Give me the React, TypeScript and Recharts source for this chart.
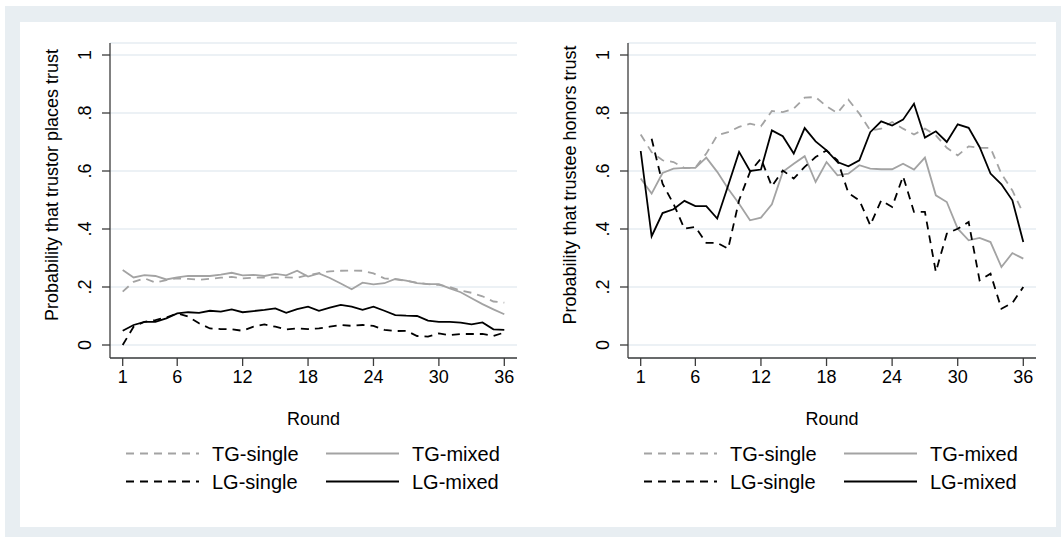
import React from 'react';
import { LineChart, Line, XAxis, YAxis, CartesianGrid } from 'recharts';

// ---------- data ----------
const rounds = [1, 2, 3, 4, 5, 6, 7, 8, 9, 10, 11, 12, 13, 14, 15, 16, 17, 18, 19, 20, 21, 22, 23, 24, 25, 26, 27, 28, 29, 30, 31, 32, 33, 34, 35, 36];
const xTicks = [1, 6, 12, 18, 24, 30, 36];
const yTicks = [0, 0.2, 0.4, 0.6, 0.8, 1];
const seriesNames = ['TG-single', 'TG-mixed', 'LG-single', 'LG-mixed'];

// Left panel: probability that trustor places trust
const trustorTGSingle = [0.184, 0.218, 0.230, 0.215, 0.224, 0.230, 0.228, 0.225, 0.228, 0.232, 0.235, 0.230, 0.232, 0.232, 0.232, 0.233, 0.232, 0.241, 0.248, 0.254, 0.256, 0.257, 0.256, 0.247, 0.230, 0.226, 0.222, 0.215, 0.210, 0.207, 0.200, 0.188, 0.180, 0.168, 0.150, 0.146];
const trustorTGMixed = [0.259, 0.233, 0.241, 0.238, 0.226, 0.233, 0.238, 0.238, 0.238, 0.243, 0.249, 0.240, 0.242, 0.238, 0.245, 0.240, 0.256, 0.236, 0.247, 0.231, 0.212, 0.192, 0.215, 0.209, 0.213, 0.228, 0.222, 0.213, 0.210, 0.210, 0.195, 0.182, 0.161, 0.141, 0.123, 0.106];
const trustorLGSingle = [0.0, 0.063, 0.080, 0.086, 0.095, 0.109, 0.098, 0.075, 0.057, 0.055, 0.054, 0.049, 0.063, 0.071, 0.063, 0.054, 0.057, 0.055, 0.057, 0.063, 0.069, 0.066, 0.069, 0.066, 0.052, 0.048, 0.049, 0.031, 0.029, 0.040, 0.034, 0.038, 0.038, 0.038, 0.031, 0.043];
const trustorLGMixed = [0.049, 0.069, 0.080, 0.080, 0.092, 0.109, 0.113, 0.111, 0.118, 0.115, 0.123, 0.113, 0.117, 0.121, 0.126, 0.111, 0.124, 0.132, 0.118, 0.129, 0.138, 0.132, 0.121, 0.132, 0.118, 0.103, 0.101, 0.100, 0.084, 0.080, 0.080, 0.077, 0.071, 0.078, 0.054, 0.052];

// Right panel: probability that trustee honors trust
const trusteeTGSingle = [0.726, 0.665, 0.637, 0.631, 0.610, 0.612, 0.660, 0.723, 0.734, 0.752, 0.763, 0.754, 0.807, 0.803, 0.815, 0.853, 0.855, 0.823, 0.800, 0.846, 0.798, 0.740, 0.746, 0.769, 0.746, 0.726, 0.746, 0.723, 0.680, 0.654, 0.685, 0.680, 0.680, 0.590, 0.533, 0.453];
const trusteeTGMixed = [0.574, 0.522, 0.593, 0.608, 0.611, 0.611, 0.646, 0.597, 0.539, 0.487, 0.430, 0.439, 0.485, 0.597, 0.625, 0.651, 0.562, 0.631, 0.585, 0.591, 0.620, 0.608, 0.606, 0.606, 0.625, 0.605, 0.646, 0.516, 0.493, 0.401, 0.361, 0.369, 0.355, 0.269, 0.317, 0.298];
const trusteeLGSingle = [null, 0.711, 0.556, 0.487, 0.401, 0.407, 0.352, 0.352, 0.332, 0.499, 0.597, 0.643, 0.547, 0.602, 0.574, 0.614, 0.648, 0.671, 0.637, 0.524, 0.499, 0.413, 0.499, 0.476, 0.582, 0.459, 0.459, 0.252, 0.384, 0.401, 0.424, 0.223, 0.246, 0.125, 0.145, 0.200];
const trusteeLGMixed = [0.669, 0.375, 0.455, 0.468, 0.497, 0.479, 0.479, 0.436, 0.550, 0.666, 0.600, 0.605, 0.740, 0.720, 0.660, 0.748, 0.702, 0.671, 0.631, 0.616, 0.637, 0.734, 0.771, 0.757, 0.777, 0.832, 0.715, 0.737, 0.700, 0.761, 0.749, 0.683, 0.591, 0.554, 0.499, 0.355];

// ---------- styles ----------
const FONT = "'Liberation Sans', Arial, Helvetica, sans-serif";
const GRAY = '#a3a3a3';
const BLACK = '#000000';
const AXIS = '#3c3c3c';
const GRID = '#e6edf2';
const BG = '#e8eef2';
const DASH = '8 6';

type Row = { round: number; tgSingle: number | null; tgMixed: number | null; lgSingle: number | null; lgMixed: number | null };

function buildRows(a: (number | null)[], b: (number | null)[], c: (number | null)[], d: (number | null)[]): Row[] {
  return rounds.map((r, i) => ({ round: r, tgSingle: a[i], tgMixed: b[i], lgSingle: c[i], lgMixed: d[i] }));
}

const trustorData = buildRows(trustorTGSingle, trustorTGMixed, trustorLGSingle, trustorLGMixed);
const trusteeData = buildRows(trusteeTGSingle, trusteeTGMixed, trusteeLGSingle, trusteeLGMixed);

const fmtY = (v: number) => (v === 0 ? '0' : v === 1 ? '1' : v.toFixed(1).replace(/^0/, ''));

const YTick = (props: any) => {
  const { x, y, payload } = props;
  return (
    <text
      transform={`translate(${x - 9},${y}) rotate(-90)`}
      textAnchor="middle"
      fontFamily={FONT}
      fontSize={18}
      fill="#000"
    >
      {fmtY(payload.value)}
    </text>
  );
};

const XTick = (props: any) => {
  const { x, y, payload } = props;
  return (
    <text x={x} y={y + 15} textAnchor="middle" fontFamily={FONT} fontSize={18} fill="#000">
      {payload.value}
    </text>
  );
};

const AxisTitle = (p: any) => (
  <text
    transform={`translate(${p.tx},${p.ty})${p.rot ? ' rotate(-90)' : ''}`}
    textAnchor="middle"
    fontFamily={FONT}
    fontSize={18}
    fill="#000"
  >
    {p.text}
  </text>
);

const CHART_H = 537;
const PLOT_TOP = 43;
const PLOT_BOTTOM = 358;
const XAXIS_H = 30;

function Panel(props: { left: number; width: number; yAxisW: number; plotW: number; data: Row[]; yTitle: string; titleX: number }) {
  const { left, width, yAxisW, plotW, data, yTitle, titleX } = props;
  const marginRight = width - yAxisW - plotW;
  return (
    <div style={{ position: 'absolute', left, top: 0 }}>
      <LineChart
        width={width}
        height={CHART_H}
        data={data}
        margin={{ top: PLOT_TOP, right: marginRight, bottom: CHART_H - PLOT_BOTTOM - XAXIS_H, left: 0 }}
      >
        <CartesianGrid vertical={false} stroke={GRID} strokeWidth={1.5} />
        <XAxis
          type="number"
          dataKey="round"
          domain={[1, 36]}
          ticks={xTicks}
          interval={0}
          padding={{ left: 12.7, right: 12.7 }}
          height={XAXIS_H}
          tickSize={8}
          tickMargin={2}
          stroke={AXIS}
          strokeWidth={1.3}
          tick={<XTick />}
          label={<AxisTitle tx={yAxisW + plotW / 2} ty={425} text="Round" />}
        />
        <YAxis
          type="number"
          domain={[0, 1]}
          ticks={yTicks}
          interval={0}
          padding={{ top: 12, bottom: 13 }}
          width={yAxisW}
          tickSize={8}
          tickMargin={2}
          stroke={AXIS}
          strokeWidth={1.3}
          tick={<YTick />}
          label={<AxisTitle tx={titleX} ty={185} rot text={yTitle} />}
        />
        <Line dataKey="tgSingle" name={seriesNames[0]} stroke={GRAY} strokeWidth={1.8} strokeDasharray={DASH} dot={false} activeDot={false} isAnimationActive={false} />
        <Line dataKey="tgMixed" name={seriesNames[1]} stroke={GRAY} strokeWidth={1.8} dot={false} activeDot={false} isAnimationActive={false} />
        <Line dataKey="lgSingle" name={seriesNames[2]} stroke={BLACK} strokeWidth={1.8} strokeDasharray={DASH} dot={false} activeDot={false} isAnimationActive={false} />
        <Line dataKey="lgMixed" name={seriesNames[3]} stroke={BLACK} strokeWidth={1.8} dot={false} activeDot={false} isAnimationActive={false} />
      </LineChart>
    </div>
  );
}

function LegendBlock({ offsetX }: { offsetX: number }) {
  const items = [
    { name: seriesNames[0], color: GRAY, dash: DASH, col: 0, row: 0 },
    { name: seriesNames[1], color: GRAY, dash: undefined, col: 1, row: 0 },
    { name: seriesNames[2], color: BLACK, dash: DASH, col: 0, row: 1 },
    { name: seriesNames[3], color: BLACK, dash: undefined, col: 1, row: 1 },
  ];
  const colX = [126, 326];
  const rowY = [453.5, 481.5];
  return (
    <svg style={{ position: 'absolute', left: offsetX, top: 0 }} width={520} height={537}>
      {items.map((it) => (
        <g key={it.name}>
          <line
            x1={colX[it.col]}
            x2={colX[it.col] + 73}
            y1={rowY[it.row]}
            y2={rowY[it.row]}
            stroke={it.color}
            strokeWidth={1.8}
            strokeDasharray={it.dash}
          />
          <text x={colX[it.col] + 86} y={rowY[it.row] + 7.5} fontFamily={FONT} fontSize={20} fill="#000">
            {it.name}
          </text>
        </g>
      ))}
    </svg>
  );
}

export default function App() {
  return (
    <div style={{ position: 'absolute', left: 0, top: 0, width: 1061, height: 537, background: '#ffffff', overflow: 'hidden' }}>
      <div style={{ position: 'absolute', left: 5, top: 6, width: 1056, height: 531, background: BG }} />
      <div style={{ position: 'absolute', left: 20, top: 22, width: 1036, height: 505, background: '#ffffff' }} />
      <Panel left={0} width={520} yAxisW={110} plotW={407} data={trustorData} yTitle="Probability that trustor places trust" titleX={58} />
      <Panel left={520} width={541} yAxisW={108} plotW={408} data={trusteeData} yTitle="Probability that trustee honors trust" titleX={56} />
      <LegendBlock offsetX={0} />
      <LegendBlock offsetX={518} />
    </div>
  );
}
